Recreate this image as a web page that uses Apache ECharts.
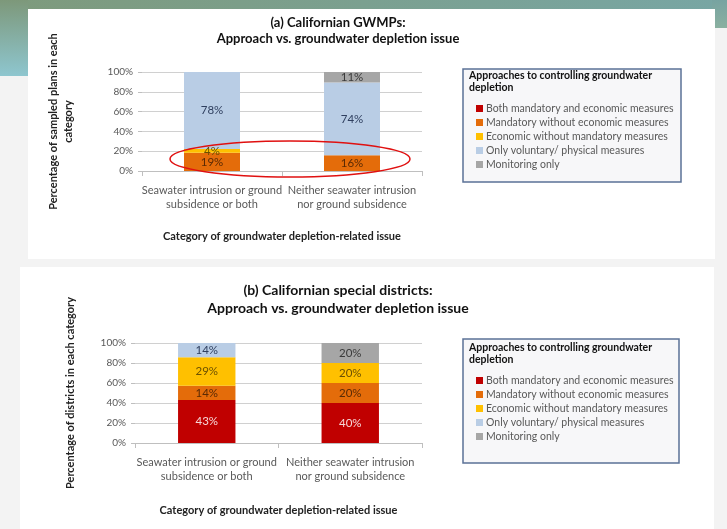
<!DOCTYPE html>
<html><head><meta charset="utf-8">
<script src="https://cdn.jsdelivr.net/npm/echarts@6/dist/echarts.min.js"></script>
<style>html,body{margin:0;padding:0;background:#f3f3f3}#c{width:727px;height:529px}</style>
</head><body><div id="c"></div>
<script>
const categories = ['Seawater intrusion or ground\nsubsidence or both', 'Neither seawater intrusion\nnor ground subsidence'];
const approaches = ['Both mandatory and economic measures', 'Mandatory without economic measures', 'Economic without mandatory measures', 'Only voluntary/ physical measures', 'Monitoring only'];
const colors = ['#c00000', '#e46c0a', '#ffc000', '#b9cde5', '#a6a6a6'];
const labelColors = ['#f6d6d6', '#5a2a05', '#6b5000', '#2f3f5f', '#3a3a3a'];
const yTicks = ['0%', '20%', '40%', '60%', '80%', '100%'];
// (a) Californian GWMPs
const gwmpBoth = [0, 0];
const gwmpMandatory = [18.5, 15.8];
const gwmpEconomic = [3.7, 0];
const gwmpVoluntary = [77.8, 73.7];
const gwmpMonitoring = [0, 10.5];
// (b) Californian special districts
const distBoth = [42.9, 40];
const distMandatory = [14.3, 20];
const distEconomic = [28.6, 20];
const distVoluntary = [14.3, 0];
const distMonitoring = [0, 20];

const gwmp = [gwmpBoth, gwmpMandatory, gwmpEconomic, gwmpVoluntary, gwmpMonitoring];
const dist = [distBoth, distMandatory, distEconomic, distVoluntary, distMonitoring];
const FONT = 'Lato, "Open Sans", sans-serif';

function mkSeries(arrs, idx, stack) {
  return arrs.map((d, i) => ({
    name: approaches[i], type: 'bar', stack: stack, xAxisIndex: idx, yAxisIndex: idx,
    barWidth: '40%', data: d,
    itemStyle: { color: colors[i] },
    label: { show: true, position: 'inside', fontFamily: FONT, fontSize: 11.5, color: labelColors[i],
      formatter: p => p.value > 0 ? Math.round(p.value) + '%' : '' }
  }));
}
function xAx(idx) {
  return { type: 'category', gridIndex: idx, data: categories,
    axisLine: { lineStyle: { color: '#bfbfbf' } },
    axisTick: { show: true, alignWithLabel: false, lineStyle: { color: '#bfbfbf' } },
    axisLabel: { fontFamily: FONT, fontSize: 11, color: '#595959', lineHeight: 14, margin: 12, interval: 0 },
    name: 'Category of groundwater depletion-related issue', nameLocation: 'middle', nameGap: idx === 0 ? 60 : 62,
    nameTextStyle: { fontFamily: FONT, fontSize: 11, fontWeight: 'bold', color: '#222' } };
}
function yAx(idx, name, gap) {
  return { type: 'value', gridIndex: idx, min: 0, max: 100, interval: 20,
    axisLabel: { fontFamily: FONT, fontSize: 10, color: '#595959', formatter: v => yTicks[v / 20], margin: 9 },
    axisLine: { show: false }, axisTick: { show: true, length: 4, lineStyle: { color: '#bfbfbf' } },
    splitLine: { lineStyle: { color: '#d0d0d0' } },
    name: name, nameLocation: 'middle', nameRotate: 90, nameGap: gap,
    nameTextStyle: { fontFamily: FONT, fontSize: 11, fontWeight: 'bold', color: '#222', lineHeight: 15 } };
}
const chart = echarts.init(document.getElementById('c'));
chart.setOption({
  animation: false,
  backgroundColor: '#f3f3f3',
  title: [
    { text: '(a) Californian GWMPs:\nApproach vs. groundwater depletion issue', left: 333, top: 10, textAlign: 'center',
      textStyle: { fontFamily: FONT, fontSize: 13, fontWeight: 'bold', color: '#111', lineHeight: 16 } },
    { text: '(b) Californian special districts:\nApproach vs. groundwater depletion issue', left: 333, top: 276, textAlign: 'center',
      textStyle: { fontFamily: FONT, fontSize: 14, fontWeight: 'bold', color: '#111', lineHeight: 18 } }
  ],
  grid: [
    { left: 142, right: 305, top: 72, height: 99 },
    { left: 135, right: 305, top: 343, height: 100 }
  ],
  xAxis: [xAx(0), xAx(1)],
  yAxis: [yAx(0, 'Percentage of sampled plans in each\ncategory', 66), yAx(1, 'Percentage of districts in each category', 57)],
  legend: [
    { data: approaches, orient: 'vertical', left: 471, top: 98, itemWidth: 7, itemHeight: 7, itemGap: 3, icon: 'rect',
      textStyle: { fontFamily: FONT, fontSize: 10.5, color: '#595959', padding: [0, 0, 0, -2] }, selectedMode: false },
    { data: approaches, orient: 'vertical', left: 471, top: 370, itemWidth: 7, itemHeight: 7, itemGap: 3, icon: 'rect',
      textStyle: { fontFamily: FONT, fontSize: 10.5, color: '#595959', padding: [0, 0, 0, -2] }, selectedMode: false }
  ],
  graphic: [
    { type: 'rect', z: -10, shape: { x: 0, y: 0, width: 727, height: 10 },
      style: { fill: new echarts.graphic.LinearGradient(0, 0, 1, 0, [{ offset: 0, color: '#7e9a7c' }, { offset: 1, color: '#78a6a4' }]) } },
    { type: 'rect', z: -10, shape: { x: 0, y: 0, width: 28, height: 76 },
      style: { fill: new echarts.graphic.LinearGradient(0, 0, 0, 1, [{ offset: 0, color: '#7d987a' }, { offset: 1, color: '#8ec6cf' }]) } },
    { type: 'rect', z: -10, shape: { x: 712, y: 0, width: 15, height: 28 },
      style: { fill: new echarts.graphic.LinearGradient(0, 0, 0, 1, [{ offset: 0, color: '#77a3a1' }, { offset: 1, color: '#8ab0a0' }]) } },
    { type: 'rect', z: -9, shape: { x: 28, y: 9, width: 687, height: 250 }, style: { fill: '#ffffff' } },
    { type: 'rect', z: -9, shape: { x: 20, y: 267, width: 694, height: 262 }, style: { fill: '#ffffff' } },
    { type: 'rect', z: -5, shape: { x: 463, y: 69, width: 218, height: 113 },
      style: { fill: '#f7f7f9', stroke: '#5b7297', lineWidth: 1.5 } },
    { type: 'text', z: 5, left: 469, top: 70,
      style: { text: 'Approaches to controlling groundwater\ndepletion', font: 'bold 10.5px Lato, sans-serif', fill: '#111', lineHeight: 12 } },
    { type: 'rect', z: -5, shape: { x: 463, y: 339, width: 216, height: 124 },
      style: { fill: '#f7f7f9', stroke: '#5b7297', lineWidth: 1.5 } },
    { type: 'text', z: 5, left: 469, top: 342,
      style: { text: 'Approaches to controlling groundwater\ndepletion', font: 'bold 10.5px Lato, sans-serif', fill: '#111', lineHeight: 12 } },
    { type: 'ellipse', z: 20, shape: { cx: 290, cy: 159, rx: 120, ry: 18 },
      style: { fill: 'none', stroke: '#e01010', lineWidth: 1.5 } }
  ],
  series: mkSeries(gwmp, 0, 'a').concat(mkSeries(dist, 1, 'b'))
});
</script></body></html>
